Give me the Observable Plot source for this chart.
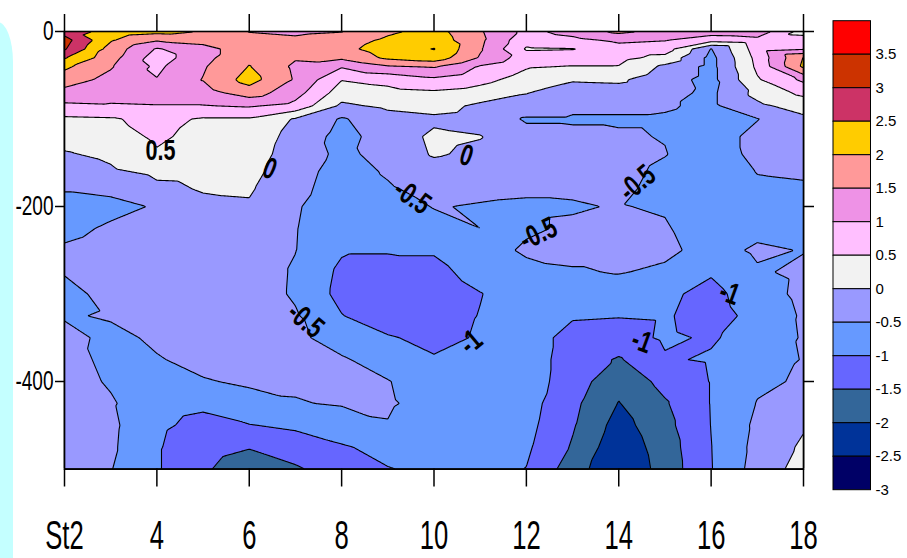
<!DOCTYPE html>
<html><head><meta charset="utf-8">
<script src="https://cdn.jsdelivr.net/npm/d3@7"></script>
<script src="https://cdn.jsdelivr.net/npm/@observablehq/plot@0.6"></script>
<style>
body{margin:0;background:#fff;}
#wrap{position:relative;width:907px;height:558px;overflow:hidden;}
</style></head><body><div id="wrap"></div>
<script>
// stations (x) and depths (m, positive down)
const stations = [2,3,4,5,6,7,8,9,10,11,12,13,14,15,16,17,18];
const depths = [0,10,20,30,40,55,70,85,100,120,140,160,180,200,225,250,275,300,325,350,375,400,425,450,475,500];
// one profile per station, values at the depths above
const s2  = [2.8,3.2,3.05,2.55,2.1,1.75,1.33,0.9,0.41,0.18,-0.04,-0.26,-0.48,-0.6,-0.6,-0.45,-0.48,-0.6,-0.53,-0.4,-0.35,-0.3,-0.3,-0.3,-0.3,-0.35];
const s3  = [2.3,2.05,1.8,1.7,1.55,1.35,1.2,0.95,0.45,0.28,0.1,-0.07,-0.42,-0.6,-0.45,-0.35,-0.35,-0.4,-0.47,-0.58,-0.6,-0.55,-0.45,-0.4,-0.42,-0.48];
const s4  = [2.15,1.55,0.95,0.75,0.9,1.02,1.2,0.98,0.65,0.58,0.45,0.1,-0.1,-0.47,-0.4,-0.3,-0.3,-0.3,-0.35,-0.45,-0.52,-0.65,-0.8,-0.9,-0.95,-0.95];
const s5  = [1.98,1.65,1.35,1.35,1.45,1.52,1.3,0.98,0.45,0.35,0.2,0.12,0.03,-0.1,-0.3,-0.25,-0.25,-0.25,-0.3,-0.4,-0.42,-0.52,-0.9,-1.15,-1.35,-1.45];
const s6  = [1.48,1.7,1.75,1.9,2.02,2.2,1.75,1.05,0.45,0.35,0.25,0.15,0.05,-0.05,-0.2,-0.25,-0.25,-0.25,-0.3,-0.35,-0.45,-0.46,-0.6,-1.02,-1.48,-1.7];
const s7  = [1.4,1.6,1.65,1.55,1.4,1.45,1.2,0.85,-0.05,-0.2,-0.25,-0.3,-0.35,-0.45,-0.48,-0.49,-0.55,-0.56,-0.45,-0.4,-0.4,-0.45,-0.52,-0.9,-1.3,-1.55];
const s8  = [1.48,1.75,1.85,1.6,1.05,0.52,0.25,-0.1,-0.55,-0.65,-0.6,-0.7,-0.75,-0.8,-0.85,-0.95,-1.1,-1.15,-0.98,-0.7,-0.45,-0.4,-0.47,-0.7,-1.05,-1.3];
const s9  = [1.9,2.1,2.25,2.1,1.45,0.65,0.35,0.1,-0.2,-0.3,-0.35,-0.45,-0.55,-0.7,-0.85,-0.95,-1.25,-1.35,-1.3,-0.95,-0.7,-0.48,-0.45,-0.52,-0.85,-1.02];
const s10 = [2.2,2.3,2.52,2.3,1.55,0.9,0.42,0.2,-0.1,0.1,0.05,-0.2,-0.35,-0.48,-0.65,-0.95,-1.15,-1.3,-1.25,-1.15,-0.95,-0.75,-0.65,-0.8,-0.85,-0.9];
const s11 = [1.55,1.6,1.55,1.45,0.95,0.65,0.3,-0.1,-0.2,0.02,-0.1,-0.3,-0.4,-0.53,-0.5,-0.65,-0.8,-1.02,-0.98,-0.95,-0.85,-0.8,-0.75,-0.8,-0.85,-0.85];
const s12 = [0.85,0.65,0.45,0.75,0.55,0.3,0.02,-0.2,-0.55,-0.35,-0.3,-0.35,-0.45,-0.55,-0.55,-0.45,-0.6,-0.7,-0.75,-0.75,-0.75,-0.75,-0.8,-0.85,-0.92,-1.01];
const s13 = [1.2,0.85,0.48,0.75,0.48,0.05,-0.25,-0.4,-0.55,-0.4,-0.35,-0.38,-0.45,-0.53,-0.45,-0.35,-0.55,-0.8,-0.95,-1.18,-1.22,-1.25,-1.38,-1.45,-1.55,-1.75];
const s14 = [1.62,1.1,0.8,0.65,0.48,0.08,-0.2,-0.4,-0.55,-0.45,-0.3,-0.35,-0.4,-0.48,-0.4,-0.35,-0.47,-0.8,-0.98,-1.2,-1.55,-1.85,-2.02,-2.2,-2.35,-2.45];
const s15 = [1.35,1.02,0.75,0.35,-0.1,-0.3,-0.35,-0.45,-0.55,-0.52,-0.48,-0.6,-0.65,-0.55,-0.45,-0.38,-0.6,-0.9,-0.95,-0.93,-1.05,-1.35,-1.55,-1.65,-1.75,-1.8];
const s16 = [1.25,0.7,-0.52,-0.65,-0.65,-0.65,-0.6,-0.6,-0.65,-0.75,-0.8,-0.85,-0.85,-0.85,-0.8,-0.7,-0.95,-1.15,-1.2,-1.05,-0.95,-0.98,-0.98,-0.99,-1.01,-1.02];
const s17 = [1.3,0.85,0.75,0.65,0.6,0.45,0.15,-0.1,-0.52,-0.35,-0.35,-0.48,-0.6,-0.7,-0.65,-0.42,-0.56,-0.72,-0.85,-0.8,-0.7,-0.58,-0.48,-0.4,-0.35,-0.3];
const s18 = [0.3,0.75,0.95,2.02,2.1,1.1,0.62,0.2,-0.1,-0.25,-0.35,-0.45,-0.55,-0.6,-0.6,-0.52,-0.4,-0.38,-0.44,-0.46,-0.48,-0.45,-0.2,-0.05,0.08,0.2];
const profiles = [s2,s3,s4,s5,s6,s7,s8,s9,s10,s11,s12,s13,s14,s15,s16,s17,s18];

const levels = [-3,-2.5,-2,-1.5,-1,-0.5,0,0.5,1,1.5,2,2.5,3,3.5,4];
const colors = ["#000066","#003399","#336699","#6666ff","#6699ff","#9999ff","#f2f2f2","#ffbfff","#ee92e6","#ff9999","#ffcc00","#cc3366","#cc3300","#ff0000"];
const stationTicks = [2,4,6,8,10,12,14,16,18];
const depthTicks = [0,-200,-400];
const contourLabels = [
  {s:4.08, d:-136, t:"0.5", a:0},
  {s:6.44, d:-157, t:"0", a:22},
  {s:9.53, d:-189, t:"-0.5", a:35},
  {s:10.7, d:-142, t:"0", a:18},
  {s:12.26, d:-231, t:"-0.5", a:-25},
  {s:14.4, d:-173, t:"-0.5", a:-40},
  {s:7.22, d:-330, t:"-0.5", a:40},
  {s:10.8, d:-355, t:"-1", a:-40},
  {s:14.5, d:-354, t:"-1", a:20},
  {s:16.4, d:-299, t:"-1", a:20}
];

const points = [];
profiles.forEach((p, i) => p.forEach((v, j) => points.push({s: stations[i], d: -depths[j], v})));

const NARROW = "'Liberation Sans Narrow','Arial Narrow','Liberation Sans',sans-serif";

const chart = Plot.plot({
  width: 907, height: 558,
  marginLeft: 64, marginRight: 104, marginTop: 31, marginBottom: 89.5,
  style: {fontFamily: NARROW, color: "black", background: "white"},
  x: {domain: [2, 18]},
  y: {domain: [-500, 0]},
  color: {type: "threshold", domain: levels.slice(1, -1), range: colors},
  marks: [
    Plot.contour(points, {x: "s", y: "d", fill: "v", interpolate: "barycentric",
      thresholds: levels.slice(0, -1), stroke: "black", strokeWidth: 1.1, pixelSize: 1}),
    Plot.text(contourLabels, {x: "s", y: "d", text: "t", rotate: "a", fontSize: 30,
      fontWeight: "bold", fill: "black", fontFamily: NARROW}),
    Plot.frame({stroke: "black", strokeWidth: 1.6}),
    Plot.axisX({anchor: "bottom", ticks: stationTicks, tickSize: 18, tickPadding: 33.5, strokeWidth: 1.5,
      tickFormat: d => d === 2 ? "St2" : String(d), fontSize: 40, label: null}),
    Plot.axisX({anchor: "top", ticks: stationTicks, tickSize: 18, strokeWidth: 1.5, tickFormat: () => "", label: null}),
    Plot.axisY({anchor: "left", ticks: depthTicks, tickSize: 9, tickPadding: 2, strokeWidth: 1.5,
      tickFormat: d => String(d), fontSize: 28, label: null}),
    Plot.axisY({anchor: "right", ticks: depthTicks, tickSize: 10, strokeWidth: 1.5, tickFormat: () => "", label: null})
  ]
});
document.getElementById("wrap").appendChild(chart);

const svg = d3.select(chart);
function squeeze(sel, k) {
  sel.each(function() {
    const t = this.getAttribute("transform") || "";
    this.setAttribute("transform", t + ` scale(${k},1)`);
  });
}
squeeze(svg.selectAll('g[aria-label="x-axis tick label"] text'), 0.64);
squeeze(svg.selectAll('g[aria-label="y-axis tick label"] text'), 0.68);
squeeze(svg.selectAll('g[aria-label="text"] text'), 0.72);

// left decorative panel
svg.insert("rect", ":first-child").attr("x", -18).attr("y", 22).attr("width", 31).attr("height", 600)
  .attr("rx", 28).attr("ry", 40).attr("fill", "#c4ffff");

// colour key
const key = svg.append("g").attr("text-anchor", "start");
const top0 = 20.7, bh = 33.5, bx = 833, bw = 37.5;
for (let i = 0; i < colors.length; i++) {
  const k = colors.length - 1 - i;
  key.append("rect").attr("x", bx).attr("y", top0 + i * bh).attr("width", bw).attr("height", bh)
    .attr("fill", colors[k]).attr("stroke", "black").attr("stroke-width", 1);
}
for (let i = 1; i < levels.length; i++) {
  key.append("text").attr("x", bx + bw + 5).attr("y", top0 + i * bh).attr("dy", "0.35em")
    .attr("text-anchor", "start")
    .attr("font-family", "'Liberation Sans',Arial,sans-serif").attr("font-size", 15).attr("fill", "black")
    .text(String(levels[levels.length - 1 - i]));
}
</script></body></html>
